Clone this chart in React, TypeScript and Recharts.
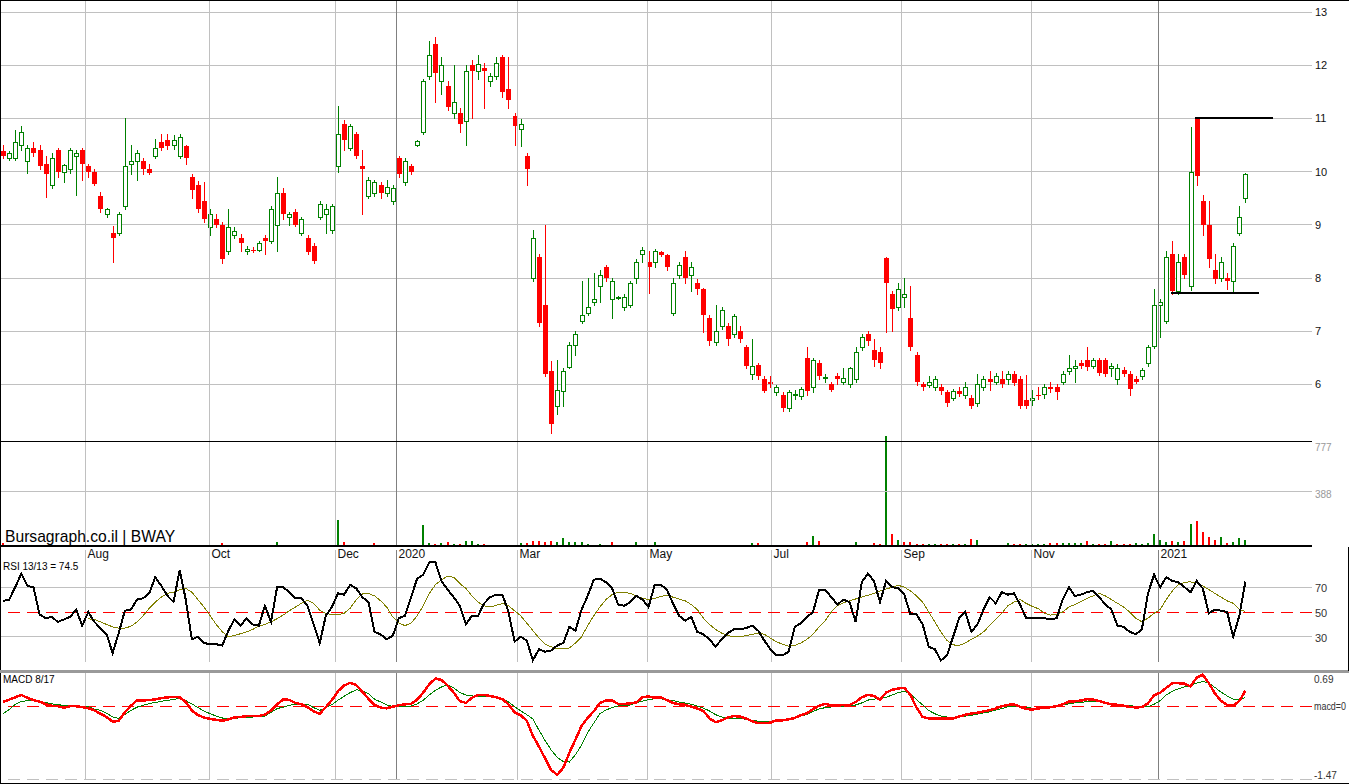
import React from "react";
import {
  ComposedChart,
  Bar,
  Line,
  XAxis,
  YAxis,
  CartesianGrid,
  ReferenceLine,
  Cell,
} from "recharts";

// each slot = two trading days, [open, high, low, close]
const priceOHLC: number[][] = [
  [10.38,10.5,10.25,10.3],[10.25,10.38,10.22,10.35],[10.26,10.78,10.22,10.55],[10.5,10.85,10.4,10.75],[10.2,10.5,9.97,10.45],[10.45,10.55,10.3,10.35],[10.4,10.5,10.05,10.1],[10.15,10.3,9.52,9.95],[9.75,10.35,9.7,10.25],[10.4,10.45,9.9,10.0],
  [10.0,10.15,9.8,10.12],[10.05,10.45,9.98,10.4],[10.3,10.4,9.56,10.35],[10.4,10.45,9.85,10.15],[10.1,10.15,9.9,10.0],[10.0,10.05,9.75,9.77],[9.55,9.62,9.25,9.3],[9.2,9.32,9.15,9.3],[8.85,8.97,8.3,8.75],[8.85,9.25,8.8,9.2],
  [9.35,11.0,9.3,10.1],[10.15,10.5,9.95,10.2],[10.2,10.4,9.85,10.35],[10.2,10.25,9.95,10.05],[10.05,10.15,9.95,9.98],[10.3,10.62,10.25,10.45],[10.55,10.7,10.4,10.45],[10.6,10.7,10.42,10.48],[10.5,10.68,10.42,10.6],[10.3,10.7,10.25,10.65],
  [10.48,10.5,10.15,10.25],[9.9,9.95,9.5,9.65],[9.75,9.82,9.25,9.3],[9.45,9.8,9.05,9.1],[8.95,9.3,8.8,9.2],[9.1,9.2,8.95,9.0],[9.0,9.05,8.28,8.35],[8.5,9.3,8.45,8.95],[8.8,8.95,8.75,8.88],[8.75,8.82,8.5,8.65],
  [8.5,8.6,8.45,8.55],[8.52,8.58,8.48,8.5],[8.52,8.7,8.5,8.65],[8.75,8.8,8.45,8.7],[8.7,9.35,8.65,9.3],[9.0,9.9,8.5,9.6],[9.6,9.7,9.1,9.2],[9.15,9.25,9.0,9.2],[9.25,9.3,8.98,9.0],[8.85,9.15,8.8,9.1],
  [8.75,8.8,8.45,8.48],[8.6,8.65,8.28,8.32],[9.15,9.45,9.1,9.4],[9.2,9.4,8.85,9.3],[8.9,9.4,8.85,9.35],[10.1,11.23,10.0,10.7],[10.9,10.97,10.4,10.6],[10.45,10.9,10.4,10.85],[10.7,10.75,10.25,10.3],[10.1,10.4,9.2,10.05],
  [9.55,9.9,9.5,9.85],[9.6,9.85,9.55,9.8],[9.75,9.8,9.5,9.6],[9.6,9.85,9.55,9.72],[9.45,9.75,9.4,9.7],[10.25,10.3,9.9,9.95],[9.8,10.25,9.75,10.2],[10.1,10.15,9.95,10.0],[10.5,10.6,10.48,10.58],[10.75,11.75,10.7,11.7],
  [11.8,12.45,11.75,12.2],[12.4,12.53,11.3,11.85],[11.7,12.15,11.45,12.0],[11.6,11.7,11.15,11.22],[11.1,12.0,11.0,11.3],[11.1,11.2,10.75,10.9],[10.95,12.0,10.5,11.9],[12.0,12.1,11.0,11.9],[11.9,12.2,11.75,12.02],[11.95,12.05,11.2,11.9],
  [11.7,11.85,11.6,11.8],[11.8,12.15,11.75,12.05],[12.15,12.2,11.4,11.5],[11.55,12.15,11.2,11.35],[11.05,11.1,10.5,10.85],[10.8,10.98,10.48,10.9],[10.3,10.35,9.75,10.05],[8.0,8.9,7.95,8.75],[8.4,8.45,7.1,7.15],[7.5,9.0,6.15,6.2],
  [6.25,6.44,5.09,5.25],[5.6,6.45,5.45,5.9],[5.88,6.3,5.6,6.25],[6.33,6.8,6.3,6.75],[6.75,7.0,6.55,6.95],[7.2,7.95,7.15,7.3],[7.35,8.0,7.3,7.45],[7.55,8.1,7.5,7.6],[7.85,8.15,7.55,8.05],[8.2,8.25,7.95,8.0],
  [7.6,8.0,7.25,7.95],[7.64,7.66,7.6,7.65],[7.45,7.7,7.4,7.65],[7.5,7.95,7.45,7.9],[8.0,8.35,7.9,8.3],[8.45,8.58,8.3,8.52],[8.3,8.5,7.72,8.2],[8.3,8.55,8.2,8.5],[8.48,8.5,8.42,8.44],[8.44,8.46,8.15,8.2],
  [7.35,8.0,7.3,7.9],[8.05,8.3,8.0,8.25],[8.4,8.5,7.9,8.0],[8.05,8.3,7.75,8.2],[7.9,7.98,7.7,7.8],[7.8,7.82,6.98,7.3],[7.25,7.3,6.75,6.82],[6.8,7.5,6.75,7.0],[7.1,7.45,7.05,7.4],[7.1,7.15,6.75,6.85],
  [6.95,7.32,6.9,7.28],[7.0,7.1,6.8,6.85],[6.7,6.75,6.3,6.35],[6.2,6.85,6.1,6.35],[6.36,6.4,6.1,6.15],[6.1,6.15,5.85,5.88],[6.05,6.15,5.95,6.0],[5.85,5.98,5.8,5.95],[5.8,5.85,5.5,5.55],[5.55,5.9,5.5,5.85],
  [5.8,5.9,5.72,5.82],[5.78,5.95,5.72,5.92],[6.5,6.7,5.8,5.88],[5.95,6.5,5.85,6.45],[6.4,6.45,6.1,6.15],[6.12,6.2,6.05,6.14],[6.0,6.05,5.88,5.9],[6.15,6.22,6.0,6.1],[6.05,6.3,6.0,6.12],[6.0,6.32,5.95,6.3],
  [6.1,6.7,6.05,6.6],[6.7,6.95,6.65,6.9],[6.95,7.0,6.75,6.82],[6.65,6.85,6.35,6.45],[6.6,6.7,6.3,6.4],[8.38,8.4,6.98,7.9],[7.7,7.75,7.0,7.42],[7.45,7.9,7.4,7.8],[7.65,8.0,7.45,7.7],[7.25,7.85,6.65,6.7],
  [6.55,6.6,5.98,6.05],[6.0,6.05,5.9,5.95],[5.98,6.15,5.95,6.05],[5.95,6.15,5.9,6.1],[5.95,6.0,5.82,5.88],[5.85,5.9,5.6,5.65],[5.75,5.92,5.7,5.88],[5.88,5.95,5.78,5.82],[5.8,6.05,5.75,5.95],[5.75,5.8,5.55,5.6],
  [5.65,6.2,5.6,6.0],[5.95,6.15,5.9,6.1],[6.1,6.25,5.9,6.05],[6.05,6.22,6.0,6.15],[6.1,6.25,5.95,6.0],[6.1,6.25,6.0,6.2],[6.2,6.25,5.98,6.02],[6.1,6.15,5.55,5.6],[5.7,6.18,5.55,5.6],[5.7,5.9,5.62,5.75],
  [5.8,5.95,5.72,5.78],[5.82,6.0,5.75,5.95],[5.95,6.05,5.85,5.92],[5.95,6.0,5.72,5.85],[6.05,6.25,6.0,6.2],[6.25,6.55,6.2,6.3],[6.3,6.45,6.05,6.35],[6.4,6.45,6.3,6.35],[6.45,6.7,6.28,6.32],[6.35,6.5,6.3,6.45],
  [6.45,6.5,6.18,6.22],[6.45,6.5,6.15,6.2],[6.3,6.4,6.15,6.35],[6.1,6.38,6.0,6.3],[6.28,6.32,6.15,6.2],[6.2,6.25,5.8,5.92],[6.1,6.15,6.02,6.05],[6.15,6.3,6.1,6.28],[6.4,6.75,6.35,6.7],[6.72,7.8,6.68,7.5],
  [7.5,7.6,6.9,7.55],[7.2,8.5,7.15,8.4],[8.45,8.7,7.7,7.75],[7.75,8.45,7.7,8.3],[8.4,8.45,8.0,8.05],[7.85,10.84,7.78,10.0],[11.0,11.02,9.75,9.92],[9.45,9.56,8.8,9.0],[9.0,9.45,8.2,8.35],[8.15,8.45,7.9,7.98],
  [8.0,8.4,7.95,8.3],[8.0,8.1,7.8,7.95],[7.95,8.65,7.75,8.6],[8.85,9.35,8.8,9.15],[9.5,9.98,9.42,9.95],
];

const volume = [
  20,3,3,3,3,3,3,3,3,3, 3,3,3,3,3,3,3,3,3,3, 3,3,3,3,3,3,3,3,3,3,
  7,7,8,7,7,5,20,5,5,5, 5,8,5,5,5,30,6,8,8,8, 7,7,7,7,7,183,30,10,10,10,
  10,20,8,8,8,6,6,6,6,148, 18,15,20,25,12,15,32,35,15,12, 10,10,10,10,10,20,18,35,35,30,
  32,30,56,28,28,30,12,10,12,10, 25,8,8,8,25,8,10,27,6,6, 6,6,6,6,6,6,8,8,8,8,
  8,8,8,20,18,8,8,8,8,8, 8,8,25,70,35,10,10,10,10,10, 28,10,10,21,12,777,85,42,30,25,
  12,12,12,12,12,12,12,12,12,50, 40,10,10,10,10,20,12,12,12,12, 12,12,18,18,18,18,18,18,37,15,
  15,15,37,12,12,12,20,15,20,85, 40,30,35,30,35,152,175,100,63,45, 63,20,30,60,40,
];

const rsi = [
  59,60,70,81,71,70,48,45,46,42, 44,46,52,39,50,42,37,32,17,33, 51,52,60,61,65,78,71,63,58,84,
  60,28,30,25,24,24,23,35,44,39, 45,40,39,55,42,70,70,66,61,61, 55,40,25,47,54,65,64,72,69,62,
  58,34,32,28,31,45,47,62,77,80, 90,90,75,68,62,55,40,47,47,57, 62,64,64,50,26,30,27,11,20,18,
  19,23,25,38,35,52,63,76,77,74, 69,56,55,58,63,60,54,72,72,68, 57,47,43,46,34,32,28,22,28,33,
  36,36,37,39,35,27,20,15,15,18, 38,41,46,50,68,68,62,56,60,58, 42,74,81,75,58,75,70,69,64,48,
  48,40,22,20,11,15,30,45,50,34, 40,52,62,57,66,64,65,56,45,45, 45,45,44,45,60,70,63,64,66,67,
  62,56,52,39,38,34,32,36,65,80, 70,78,75,74,70,66,75,69,49,52, 51,50,30,47,74.5,
];

const rsiSignal: (number | null)[] = [
  null,null,null,null,null,null,null,null,null,null, null,null,null,null,44.5,44,42,40,38,37,
  37,38.5,42,47,53,58,62,65,66,68, 69,66,60,54,47,40,34,30,31,32.5,
  34,36,38.5,40,42,44.6,47.5,51,54,57, 59.5,57,51.4,49,47.8,47.8,49,53,60,64.5,
  65,63,59,54,46,41,39,41,47,55, 65,72,76,79,78,73,69,63,58,55,
  54,55.5,56.8,55,51,47,41,35,29,24, 22,20.5,20.5,21,25,30,39,47,54,60,
  64,66,66,65,63,61,60,61,62.5,63.5, 62,60.5,59,56,52,45,40,36,33,31,
  30,30,31,32,33,32,29,26,24,22.5, 23,25,28,32,38,43,50,55,57.5,59,
  60.5,62,63.5,65,67,68.5,70,71.5,70,67, 63,58,50,42,34,27,23.5,23,25,28,
  30.5,34,39,44,49,55,58,60,57,54.5, 52.7,49,47.5,48,50,54,56,58.5,61,63,
  65,63,60,57,54,50,45,42,45,49, 52,60,67,72,74,74.3,73.5,71,68,65, 62,59,57,52,50.5,
];

const macd = [
  0.1,0.15,0.2,0.25,0.19,0.14,0.11,0.05,0.02,0.01, -0.02,0.01,0.01,-0.01,-0.03,-0.08,-0.15,-0.22,-0.32,-0.3,
  -0.12,0.02,0.135,0.135,0.14,0.156,0.18,0.2,0.205,0.2, 0.1,-0.08,-0.18,-0.23,-0.26,-0.28,-0.3,-0.27,-0.23,-0.22,
  -0.2,-0.2,-0.2,-0.17,-0.08,0.05,0.155,0.145,0.08,0.05, -0.01,-0.1,-0.15,-0.01,0.14,0.33,0.45,0.51,0.46,0.32,
  0.17,0.04,-0.02,-0.036,0.0,0.03,0.05,0.06,0.15,0.3, 0.48,0.6,0.57,0.45,0.3,0.12,0.08,0.19,0.25,0.25,
  0.227,0.2,0.16,0.05,-0.12,-0.18,-0.3,-0.62,-0.85,-1.1, -1.35,-1.45,-1.3,-0.98,-0.7,-0.41,-0.235,-0.1,0.08,0.13,
  0.13,0.06,0.06,0.07,0.09,0.2,0.22,0.19,0.2,0.14, 0.08,0.05,0.04,0.0,-0.04,-0.09,-0.25,-0.33,-0.29,-0.23,
  -0.2,-0.21,-0.25,-0.31,-0.35,-0.35,-0.34,-0.29,-0.29,-0.27, -0.24,-0.18,-0.14,-0.05,0.02,0.06,0.03,0.02,0.036,0.036,
  0.1,0.2,0.25,0.23,0.15,0.3,0.36,0.39,0.4,0.25, -0.02,-0.22,-0.25,-0.256,-0.256,-0.256,-0.25,-0.21,-0.17,-0.145,
  -0.13,-0.1,-0.075,-0.04,0.01,0.04,0.05,0.0,-0.05,-0.06, -0.036,-0.025,-0.01,0.01,0.05,0.107,0.115,0.13,0.16,0.15,
  0.12,0.08,0.05,0.04,0.02,-0.007,-0.015,-0.01,0.07,0.24, 0.3,0.4,0.5,0.5,0.49,0.43,0.62,0.68,0.5,0.28,
  0.12,0.04,0.02,0.12,0.34,
];

const macdSignal = [
  -0.15,-0.06,0.05,0.11,0.13,0.135,0.11,0.087,0.06,0.04, 0.03,0.018,0.01,0.0,-0.005,-0.05,-0.078,-0.14,-0.22,-0.25,
  -0.17,-0.08,-0.01,0.03,0.065,0.09,0.115,0.135,0.155,0.178, 0.13,0.06,-0.02,-0.09,-0.15,-0.2,-0.24,-0.27,-0.25,-0.235,
  -0.23,-0.22,-0.21,-0.2,-0.12,-0.04,-0.01,0.03,0.05,0.05, 0.05,-0.02,-0.078,-0.02,0.045,0.14,0.22,0.3,0.36,0.34,
  0.28,0.16,0.1,0.04,0.0,-0.005,0.005,0.014,0.06,0.14, 0.25,0.35,0.42,0.47,0.4,0.3,0.25,0.23,0.21,0.215,
  0.227,0.2,0.178,0.1,0.0,-0.09,-0.17,-0.26,-0.5,-0.72, -0.92,-1.08,-1.17,-1.18,-1.02,-0.82,-0.55,-0.35,-0.15,-0.07,
  -0.02,0.014,0.025,0.036,0.08,0.12,0.15,0.17,0.17,0.145, 0.13,0.1,0.08,0.05,0.014,-0.03,-0.09,-0.17,-0.22,-0.24,
  -0.245,-0.25,-0.27,-0.29,-0.31,-0.32,-0.31,-0.305,-0.29,-0.27, -0.25,-0.2,-0.17,-0.1,-0.05,-0.02,-0.007,0.0,0.014,0.02,
  0.036,0.08,0.14,0.16,0.175,0.2,0.25,0.3,0.33,0.27, 0.15,0.04,-0.08,-0.15,-0.2,-0.22,-0.22,-0.22,-0.2,-0.185,
  -0.16,-0.13,-0.11,-0.07,-0.04,0.0,0.014,0.0,-0.02,-0.03, -0.036,-0.02,0.007,0.02,0.036,0.06,0.08,0.09,0.11,0.12,
  0.11,0.09,0.07,0.05,0.035,0.02,0.01,-0.005,0.0,0.05, 0.13,0.25,0.33,0.38,0.42,0.46,0.5,0.54,0.5,0.41,
  0.31,0.23,0.16,0.14,0.2,
];

// month boundaries in slot units
const monthLabels = ["Aug", "Oct", "Dec", "2020", "Mar", "May", "Jul", "Sep", "Nov", "2021"];
const monthSlots = [14.04, 34.4, 55.09, 65.11, 84.98, 106.32, 126.68, 148.03, 169.38, 190.23];

const priceTicks = [6, 7, 8, 9, 10, 11, 12, 13];
const volTicks = [388, 777];
const rsiTicks = [30, 50, 70];
const macdTicks = [0.69, 0, -1.47];

// hand-drawn support / resistance
const levelLines = [
  { from: 196.2, to: 209.0, price: 11 },
  { from: 192.3, to: 206.7, price: 7.72 },
];

const FONT = "'Liberation Sans', Arial, Helvetica, sans-serif";
const GREEN = "#008000";
const RED = "#ff0000";
const GRID = "#c0c0c0";
const YEAR_GRID = "#808080";
const WIDTH = 1349;
const AXIS_W = 37;
const XMAX = 1312 / 6.09;
const M = { top: 0, right: 0, bottom: 0, left: 0 };

const rows = priceOHLC.map(([o, h, l, c], i) => ({
  x: i + 0.5,
  o,
  h,
  l,
  c,
  vol: volume[i],
  volUp: c >= (i ? priceOHLC[i - 1][3] : o),
  rsi: rsi[i],
  rsiSig: rsiSignal[i],
  macd: macd[i],
  macdSig: macdSignal[i],
}));

const Candle = (p: any) => {
  const { x, y, width, height, payload } = p;
  if (!payload) return null;
  const { o, h, l, c } = payload;
  const top = Math.min(y, y + height);
  const k = h > l ? Math.abs(height) / (h - l) : 0;
  const Y = (v: number) => top + (h - v) * k;
  const cx = Math.floor(x + width / 2) + 0.5;
  const up = c >= o;
  const col = up ? GREEN : RED;
  const b0 = Math.round(Y(Math.max(o, c)));
  const b1 = Math.round(Y(Math.min(o, c)));
  return (
    <g>
      <line x1={cx} x2={cx} y1={Math.round(Y(h))} y2={Math.round(Y(l)) + 1} stroke={col} />
      {up ? (
        <rect x={cx - 2} y={b0 + 0.5} width={4} height={Math.max(b1 - b0, 1)} fill="#fff" stroke={col} />
      ) : (
        <rect x={cx - 2.5} y={b0} width={5} height={Math.max(b1 - b0, 1)} fill={col} />
      )}
    </g>
  );
};

const rightTick = (fill: string, size: number, dyFor: (v: number) => number, fmt?: (v: number) => string) =>
  (props: any) => {
    const { x, y, payload } = props;
    const v = payload.value;
    const label = fmt ? fmt(v) : String(v);
    const squeeze = label.length > 5 ? { textLength: 32, lengthAdjust: "spacingAndGlyphs" } : {};
    return (
      <text x={x} y={y + dyFor(v)} fill={fill} fontSize={size} fontFamily={FONT} textAnchor="start" {...squeeze}>
        {label}
      </text>
    );
  };

const MonthTick = (props: any) => {
  const { x, y, index } = props;
  return (
    <text x={x + 2} y={y + 12} fill="#111" fontSize={12} fontFamily={FONT} textAnchor="start">
      {monthLabels[index]}
    </text>
  );
};

const monthLines = (span?: [number, number]) =>
  monthSlots.map((m, i) => {
    const color = monthLabels[i].length === 4 ? YEAR_GRID : GRID;
    return span ? (
      <ReferenceLine key={i} segment={[{ x: m, y: span[0] }, { x: m, y: span[1] }]} stroke={color} />
    ) : (
      <ReferenceLine key={i} x={m} stroke={color} />
    );
  });

const layer = (top: number, z = 1): React.CSSProperties => ({ position: "absolute", left: 0, top, zIndex: z });
const line = (left: number, top: number, w: number, h: number, bg: string): React.CSSProperties => ({
  position: "absolute", left, top, width: w, height: h, background: bg, zIndex: 5,
});

export default function App() {
  return (
    <div style={{ position: "absolute", left: 0, top: 0, width: WIDTH, height: 784, background: "#fff", overflow: "hidden", shapeRendering: "crispEdges" }}>
      <style>{"svg.recharts-surface{overflow:visible}"}</style>
      {/* price */}
      <div style={layer(0)}>
        <ComposedChart width={WIDTH} height={441} data={rows} margin={M}>
          <CartesianGrid vertical={false} stroke={GRID} />
          <XAxis type="number" dataKey="x" domain={[0, XMAX]} hide />
          <YAxis
            orientation="right"
            width={AXIS_W}
            domain={[4.936, 13.226]}
            ticks={priceTicks}
            interval={0}
            axisLine={false}
            tickLine={false}
            tickSize={0}
            tickMargin={3}
            allowDataOverflow
            tick={rightTick("#111", 11, () => 4)}
          />
          {monthLines()}
          <Bar dataKey={(d: any) => [d.l, d.h]} barSize={5} shape={(p: any) => <Candle {...p} />} isAnimationActive={false} />
          {levelLines.map((s, i) => (
            <ReferenceLine key={i} segment={[{ x: s.from, y: s.price }, { x: s.to, y: s.price }]} stroke="#000" strokeWidth={2} />
          ))}
        </ComposedChart>
      </div>

      {/* volume + month axis */}
      <div style={layer(436, 2)}>
        <ComposedChart width={WIDTH} height={125} data={rows} margin={M}>
          <XAxis
            type="number"
            dataKey="x"
            domain={[0, XMAX]}
            ticks={monthSlots}
            interval={0}
            height={15}
            axisLine={{ stroke: "#000", strokeWidth: 2 }}
            tickLine={false}
            tickSize={0}
            tickMargin={0}
            tick={<MonthTick />}
          />
          <YAxis
            orientation="right"
            width={AXIS_W}
            domain={[0, 777]}
            ticks={volTicks}
            interval={0}
            axisLine={false}
            tickLine={false}
            tickSize={0}
            tickMargin={3}
            tick={rightTick("#999", 10, (v) => (v === 777 ? 15 : 7))}
          />
          <ReferenceLine y={388} stroke={GRID} />
          {monthLines([0, 777])}
          <Bar dataKey="vol" barSize={2} isAnimationActive={false}>
            {rows.map((r, i) => (
              <Cell key={i} fill={r.volUp ? GREEN : RED} />
            ))}
          </Bar>
        </ComposedChart>
      </div>

      {/* RSI */}
      <div style={layer(550, 3)}>
        <ComposedChart width={WIDTH} height={124} data={rows} margin={M}>
          <XAxis type="number" dataKey="x" domain={[0, XMAX]} hide />
          <YAxis
            orientation="right"
            width={AXIS_W}
            domain={[0, 100]}
            ticks={rsiTicks}
            interval={0}
            axisLine={false}
            tickLine={false}
            tickSize={0}
            tickMargin={3}
            tick={rightTick("#333", 11, () => 5)}
          />
          <ReferenceLine y={70} stroke={GRID} />
          <ReferenceLine y={30} stroke={GRID} />
          {monthLines([100, 9.7])}
          <ReferenceLine y={50} stroke={RED} strokeDasharray="12 7" />
          <Line dataKey="rsiSig" stroke="#808000" strokeWidth={1} dot={false} connectNulls isAnimationActive={false} />
          <Line dataKey="rsi" stroke="#000" strokeWidth={2} dot={false} isAnimationActive={false} />
        </ComposedChart>
      </div>

      {/* MACD */}
      <div style={layer(672, 3)}>
        <ComposedChart width={WIDTH} height={108} data={rows} margin={M}>
          <XAxis type="number" dataKey="x" domain={[0, XMAX]} hide />
          <YAxis
            orientation="right"
            width={AXIS_W}
            domain={[-1.562, 0.739]}
            ticks={macdTicks}
            interval={0}
            axisLine={false}
            tickLine={false}
            tickSize={0}
            tickMargin={2}
            allowDataOverflow
            tick={rightTick("#333", 10, (v) => (v === 0.69 ? 9 : 3), (v) => (v === 0 ? "macd=0" : String(v)))}
          />
          {monthLines()}
          <ReferenceLine y={-1.55} stroke={GRID} strokeDasharray="12 7" />
          <ReferenceLine y={0} stroke={RED} strokeDasharray="12 7" />
          <Line dataKey="macdSig" stroke={GREEN} strokeWidth={1} dot={false} isAnimationActive={false} />
          <Line dataKey="macd" stroke={RED} strokeWidth={2.5} dot={false} isAnimationActive={false} />
        </ComposedChart>
      </div>

      {/* frame lines */}
      <div style={line(0, 0, WIDTH, 1, "#000")} />
      <div style={line(0, 0, 1, 784, "#000")} />
      <div style={line(0, 441, 1312, 1, "#000")} />
      <div style={line(0, 670, WIDTH, 3, "#9a9a9a")} />
      <div style={line(1348, 547, 1, 124, "#000")} />
      <div style={line(0, 783, WIDTH, 1, "#000")} />

      {/* captions */}
      <div style={{ position: "absolute", left: 5, top: 528, zIndex: 6, fontFamily: FONT, fontSize: 17, lineHeight: "17px", color: "#000", whiteSpace: "nowrap", transform: "scaleX(0.92)", transformOrigin: "left top" }}>
        Bursagraph.co.il | BWAY
      </div>
      <div style={{ position: "absolute", left: 3, top: 562, zIndex: 6, fontFamily: FONT, fontSize: 10, lineHeight: "10px", color: "#000", whiteSpace: "nowrap" }}>
        RSI 13/13 = 74.5
      </div>
      <div style={{ position: "absolute", left: 3, top: 675, zIndex: 6, fontFamily: FONT, fontSize: 10, lineHeight: "10px", color: "#000", whiteSpace: "nowrap" }}>
        MACD 8/17
      </div>
    </div>
  );
}
